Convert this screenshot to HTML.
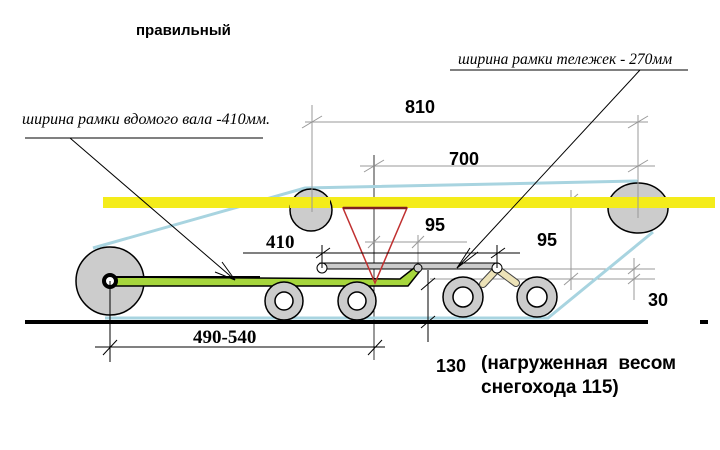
<!DOCTYPE html>
<html><head><meta charset="utf-8"><style>
html,body{margin:0;padding:0;background:#fff;width:720px;height:450px;overflow:hidden}
svg{display:block}
.s{font-family:"Liberation Sans",sans-serif;font-weight:bold}
.r{font-family:"Liberation Serif",serif}
</style></head><body>
<svg width="720" height="450" viewBox="0 0 720 450" xmlns="http://www.w3.org/2000/svg">
<text x="136" y="35" class="s" font-size="15">правильный</text>
<text x="458" y="64" class="r" font-style="italic" font-size="15.5">ширина рамки тележек - 270мм</text>
<line x1="450" y1="70" x2="688" y2="70" stroke="#000" stroke-width="1"/>
<text x="22" y="124" class="r" font-style="italic" font-size="16">ширина рамки вдомого вала -410мм.</text>
<line x1="25" y1="138" x2="263" y2="138" stroke="#000" stroke-width="1"/>

<g stroke="#999" stroke-width="1" fill="none">
<line x1="305" y1="122" x2="648" y2="122"/>
<line x1="312" y1="105" x2="312" y2="212"/>
<line x1="638" y1="115" x2="638" y2="218"/>
<line x1="360" y1="166" x2="655" y2="166"/>
<line x1="374" y1="155" x2="374" y2="360" stroke="#333"/>
<line x1="365" y1="242" x2="467" y2="242"/>
<line x1="418" y1="235" x2="418" y2="270"/>
<line x1="555" y1="200" x2="600" y2="200"/>
<line x1="571" y1="190" x2="571" y2="290"/>
<line x1="495" y1="269" x2="655" y2="269"/>
<line x1="430" y1="279" x2="655" y2="279"/>
<line x1="634" y1="258" x2="634" y2="300"/>
<line x1="302" y1="128" x2="322" y2="116"/><line x1="628" y1="128" x2="648" y2="116"/>
<line x1="364" y1="172" x2="384" y2="160"/><line x1="628" y1="172" x2="648" y2="160"/>
<line x1="368" y1="248" x2="380" y2="236"/><line x1="412" y1="248" x2="424" y2="236"/>
<line x1="564" y1="206" x2="578" y2="194"/><line x1="564" y1="285" x2="578" y2="273"/>
<line x1="628" y1="274" x2="640" y2="264"/><line x1="628" y1="284" x2="640" y2="274"/>
</g>
<polyline points="93,248 305,188 638,181" fill="none" stroke="#a8d4e0" stroke-width="3"/>
<polyline points="653,232 548,318 105,318" fill="none" stroke="#a8d4e0" stroke-width="3"/>
<rect x="103" y="197" width="612" height="11" fill="#f4ec1a"/>
<circle cx="311" cy="210" r="21" fill="#ccc" stroke="#000" stroke-width="1.5"/>
<ellipse cx="638" cy="208" rx="30" ry="25" fill="#ccc" stroke="#000" stroke-width="1.5"/>
<rect x="290" y="197" width="40" height="11" fill="#f4ec1a"/>
<rect x="606" y="197" width="64" height="11" fill="#f4ec1a"/>
<line x1="312" y1="180" x2="312" y2="212" stroke="#999"/>
<line x1="638" y1="180" x2="638" y2="218" stroke="#999"/>
<rect x="25" y="320" width="623" height="4" fill="#000"/>
<rect x="700" y="320" width="8" height="4" fill="#000"/>
<circle cx="110" cy="281" r="34" fill="#ccc" stroke="#000" stroke-width="1.5"/>
<rect x="320" y="263" width="178" height="6" fill="#ccc" stroke="#000" stroke-width="1"/>
<polygon points="110,277 400,279 414,268 420,271 408,286 110,286" fill="#a6d63c" stroke="#000" stroke-width="1.5"/>
<line x1="110" y1="277" x2="260" y2="277" stroke="#000" stroke-width="2"/>
<circle cx="110" cy="281" r="6" fill="#fff" stroke="#000" stroke-width="4"/>
<circle cx="322" cy="268" r="5" fill="#fff" stroke="#000"/>
<circle cx="418" cy="268" r="4" fill="#ccc" stroke="#000"/>
<g fill="#ccc" stroke="#000" stroke-width="1.5">
<circle cx="284" cy="301" r="19"/><circle cx="357" cy="301" r="19"/>
<circle cx="463" cy="297" r="20"/><circle cx="537" cy="297" r="20"/>
</g>
<g fill="#fff" stroke="#000" stroke-width="1.5">
<circle cx="284" cy="301" r="9"/><circle cx="357" cy="301" r="9"/>
<circle cx="463" cy="297" r="10"/><circle cx="537" cy="297" r="10"/>
</g>
<line x1="497" y1="269" x2="483" y2="284" stroke="#444" stroke-width="8" stroke-linecap="round"/>
<line x1="497" y1="269" x2="516" y2="283" stroke="#444" stroke-width="8" stroke-linecap="round"/>
<line x1="497" y1="269" x2="483" y2="284" stroke="#ede3b8" stroke-width="6" stroke-linecap="round"/>
<line x1="497" y1="269" x2="516" y2="283" stroke="#ede3b8" stroke-width="6" stroke-linecap="round"/>
<circle cx="497" cy="268" r="5" fill="#fff" stroke="#000"/>
<polygon points="343,208 407,208 375,283" fill="none" stroke="#c03030" stroke-width="1.5"/>
<line x1="343" y1="208" x2="407" y2="208" stroke="#802020" stroke-width="2.5"/>
<g stroke="#000" stroke-width="1">
<line x1="243" y1="253" x2="520" y2="253"/>
<line x1="322" y1="245" x2="322" y2="268"/>
<line x1="316" y1="258" x2="330" y2="248"/>
<line x1="497" y1="245" x2="497" y2="268"/>
<line x1="491" y1="258" x2="505" y2="248"/>
<line x1="95" y1="347" x2="385" y2="347"/>
<line x1="110" y1="281" x2="110" y2="362"/>
<line x1="103" y1="355" x2="117" y2="340"/>
<line x1="368" y1="355" x2="382" y2="340"/>
<line x1="428" y1="270" x2="428" y2="342"/>
<line x1="421" y1="290" x2="435" y2="278"/>
<line x1="421" y1="328" x2="435" y2="316"/>
<line x1="70" y1="138" x2="235" y2="280"/>
<line x1="222" y1="262" x2="235" y2="280"/><line x1="215" y1="272" x2="235" y2="280"/>
<line x1="640" y1="70" x2="457" y2="268"/>
<line x1="470" y1="248" x2="457" y2="268"/><line x1="478" y1="252" x2="457" y2="268"/>
</g>
<text x="405" y="113" class="s" font-size="18">810</text>
<text x="449" y="165" class="s" font-size="18">700</text>
<text x="425" y="231" class="s" font-size="18">95</text>
<text x="537" y="246" class="s" font-size="18">95</text>
<text x="648" y="306" class="s" font-size="18">30</text>
<text x="266" y="248" class="r" font-weight="bold" font-size="19">410</text>
<text x="193" y="343" class="r" font-weight="bold" font-size="19">490-540</text>
<text x="436" y="372" class="s" font-size="18">130</text>
<text x="481" y="369" class="s" font-size="19" xml:space="preserve">(нагруженная  весом</text>
<text x="481" y="393" class="s" font-size="19">снегохода 115)</text>
</svg>
</body></html>
